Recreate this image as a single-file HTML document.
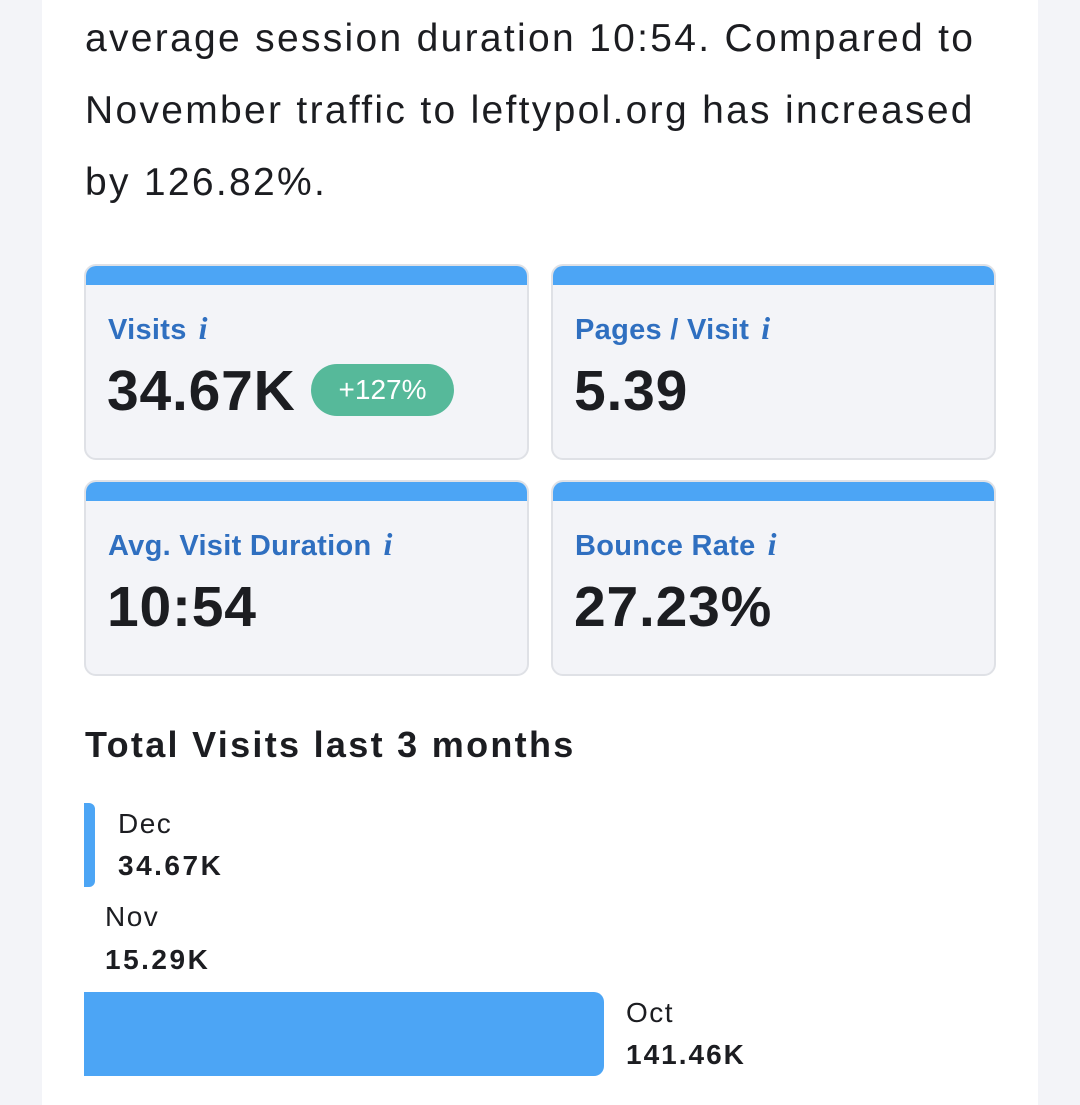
<!DOCTYPE html>
<html><head><style>
*{margin:0;padding:0;box-sizing:border-box}
body{width:1080px;height:1105px;background:#f3f4f8;font-family:"Liberation Sans",sans-serif;position:relative;overflow:hidden;color:#1c1d21}
.page{position:absolute;left:42px;top:0;width:996px;height:1105px;background:#fff}
.p{position:absolute;left:85px;font-size:39px;line-height:72px;color:#1c1d21;letter-spacing:2.3px;white-space:nowrap}
.card{position:absolute;width:445px;height:196px;background:#f3f4f8;border:2px solid #dfe1e6;border-radius:12px;overflow:hidden}
.card .bar{position:absolute;left:-2px;right:-2px;top:-2px;height:21px;background:#4ca5f5}
.lbl{position:absolute;left:22px;top:44px;font-size:29px;font-weight:bold;color:#2f6fc0;letter-spacing:0.3px}
.lbl i{font-family:"Liberation Serif",serif;font-weight:bold;margin-left:12px;font-size:32px}
.val{position:absolute;left:21px;top:92px;font-size:57px;font-weight:bold;color:#1c1d21;letter-spacing:0.8px}
.badge{position:absolute;left:225px;top:98px;width:143px;height:52px;border-radius:26px;background:#56b99a;color:#fff;font-size:28px;text-align:center;line-height:52px}
.t{position:absolute;font-size:28px;line-height:32px;letter-spacing:1.5px}
</style></head><body>
<div class="page"></div>
<div class="p" style="top:3px">average session duration 10:54. Compared to</div>
<div class="p" style="top:75px">November traffic to leftypol.org has increased</div>
<div class="p" style="top:147px">by 126.82%.</div>

<div class="card" style="left:84px;top:264px"><div class="bar"></div><div class="lbl">Visits<i>i</i></div><div class="val">34.67K</div><div class="badge">+127%</div></div>
<div class="card" style="left:551px;top:264px"><div class="bar"></div><div class="lbl">Pages / Visit<i>i</i></div><div class="val">5.39</div></div>
<div class="card" style="left:84px;top:480px"><div class="bar"></div><div class="lbl">Avg. Visit Duration<i>i</i></div><div class="val">10:54</div></div>
<div class="card" style="left:551px;top:480px"><div class="bar"></div><div class="lbl">Bounce Rate<i>i</i></div><div class="val">27.23%</div></div>

<div style="position:absolute;left:85px;top:724px;font-size:36px;font-weight:bold;color:#1c1d21;letter-spacing:2.3px">Total Visits last 3 months</div>

<div style="position:absolute;left:84px;top:803px;width:11px;height:84px;background:#4ca5f5;border-radius:0 6px 6px 0"></div>
<div class="t" style="left:118px;top:808px">Dec</div>
<div class="t" style="left:118px;top:850px;font-weight:bold;letter-spacing:2.5px">34.67K</div>
<div class="t" style="left:105px;top:901px">Nov</div>
<div class="t" style="left:105px;top:944px;font-weight:bold;letter-spacing:2.5px">15.29K</div>
<div style="position:absolute;left:84px;top:992px;width:520px;height:84px;background:#4ca5f5;border-radius:0 10px 10px 0"></div>
<div class="t" style="left:626px;top:997px">Oct</div>
<div class="t" style="left:626px;top:1039px;font-weight:bold;letter-spacing:2px">141.46K</div>
</body></html>
